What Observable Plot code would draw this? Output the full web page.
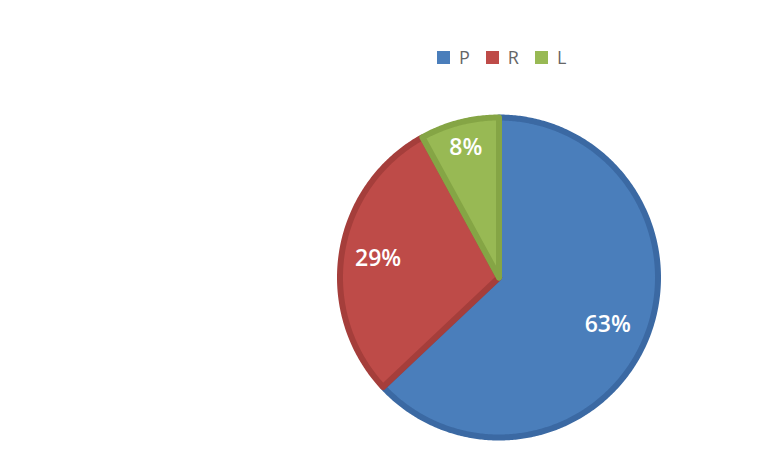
<!DOCTYPE html>
<html>
<head>
<meta charset="utf-8">
<script src="https://cdn.jsdelivr.net/npm/d3@7"></script>
<script src="https://cdn.jsdelivr.net/npm/@observablehq/plot@0.6"></script>
<style>
  body { margin: 0; background: #fff; }
  #legend { height: 80px; box-sizing: border-box; padding-left: 437px; padding-top: 48px;
            display: flex; align-items: flex-start; font-family: "Open Sans", sans-serif;
            font-size: 18px; color: #666; }
  .item { display: flex; align-items: center; height: 18px; margin-right: 16px; }
  .sw { width: 13px; height: 13px; margin-right: 9px; }
  #chart svg { display: block; }
</style>
</head>
<body>
<div id="legend"></div>
<div id="chart"></div>
<script>
// ---- data ----
const categories = ["P", "R", "L"];
const shares = [63, 29, 8];
const labels = ["63%", "29%", "8%"];
const fills = ["#4a7ebb", "#be4b48", "#98b954"];
const edges = ["#3b69a3", "#a53e3b", "#85a545"];

// ---- layout constants ----
const labelRadius = {P: 0.745, R: 0.77, L: 0.84};

// legend
const legend = document.getElementById("legend");
categories.forEach((c, i) => {
  const it = document.createElement("div");
  it.className = "item";
  it.innerHTML = `<div class="sw" style="background:${fills[i]}"></div><span>${c}</span>`;
  legend.appendChild(it);
});

// pie geometry (angles clockwise from 12 o'clock)
const arcs = d3.pie().sort(null).value((d) => d.v)(categories.map((c, i) => ({c, v: shares[i], i})));
const slices = arcs.map((a) => {
  const pts = [{x: 0, y: 0}];
  const n = Math.max(8, Math.ceil((a.endAngle - a.startAngle) / 0.01));
  for (let k = 0; k <= n; k++) {
    const t = a.startAngle + (a.endAngle - a.startAngle) * k / n;
    pts.push({x: Math.sin(t), y: Math.cos(t)});
  }
  pts.push({x: 0, y: 0});
  const mid = (a.startAngle + a.endAngle) / 2;
  const lr = labelRadius[a.data.c];
  return {pts, i: a.data.i, label: {x: lr * Math.sin(mid), y: lr * Math.cos(mid), text: labels[a.data.i]}};
});

const chart = Plot.plot({
  width: 773,
  height: 380,
  marginLeft: 339.5,
  marginRight: 115.5,
  marginTop: 37,
  marginBottom: 23,
  x: {domain: [-1, 1], axis: null},
  y: {domain: [-1, 1], axis: null},
  style: {background: "#fff", fontFamily: "Open Sans, sans-serif", overflow: "visible"},
  marks: [
    ...slices.map((s) => Plot.line(s.pts, {x: "x", y: "y", fill: fills[s.i], stroke: edges[s.i],
                                          strokeWidth: 6, strokeLinejoin: "round", curve: "linear"})),
    Plot.text(slices.map((s) => s.label), {x: "x", y: "y", text: "text", fill: "white",
                                            fontSize: 23, fontWeight: 600})
  ]
});
document.getElementById("chart").appendChild(chart);
</script>
</body>
</html>
